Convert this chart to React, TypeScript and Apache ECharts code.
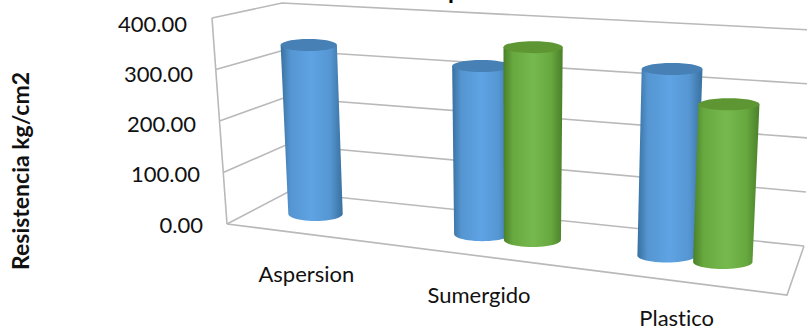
import React, { useEffect, useRef } from "react";
import * as echarts from "echarts";

const categories = ["Aspersion", "Sumergido", "Plastico"];
const blueValues = [338, 322, 342];
const greenValues: (number | null)[] = [null, 365, 286];
const yTicks = [0, 100, 200, 300, 400];
const axisTitle = "Resistencia kg/cm2";

const FONT = "Lato, Carlito, sans-serif";

// Corners of the 3D plot box, in page pixels.
const box = {
  flb: [227, 224], flt: [212, 18],
  blb: [288, 192], blt: [282, 3],
  brb: [804, 246], brt: [812, 30],
  frb: [787, 295], frt: [802, 62],
};
const mix = (a: number[], b: number[], t: number) => [a[0] + (b[0] - a[0]) * t, a[1] + (b[1] - a[1]) * t];

// u runs left to right, d front to back, v floor to ceiling; all in 0..1.
function project(u: number, d: number, v: number) {
  const bottom = mix(mix(box.flb, box.frb, u), mix(box.blb, box.brb, u), d);
  const top = mix(mix(box.flt, box.frt, u), mix(box.blt, box.brt, u), d);
  return mix(bottom, top, v);
}

// Columns crowd slightly towards the far side of the box.
const warp = (f: number) => f - 0.136 * f * (1 - f);
const groupNudge = [0.006, 0, 0];
const groupSpread = [1, 1, 1.12];
const groupDepth = [0.52, 0.5, 0.5];
const columnHalf = (u: number) => 0.05 * (1 + 0.12 * u);

const LINE = "#b9b9b9";

function frameItem(params: any, api: any) {
  const cs = params.coordSys;
  const v = (cs.y + cs.height - api.coord([0, api.value(0)])[1]) / cs.height;
  const children: any[] = [
    {
      type: "polyline",
      shape: { points: [project(0, 0, v), project(0, 1, v), project(1, 1, v)] },
      style: { stroke: LINE, fill: "none", lineWidth: 1.6 },
    },
  ];
  if (api.value(0) === 0) {
    children.push(
      { type: "line", shape: { x1: box.flb[0], y1: box.flb[1], x2: box.flt[0], y2: box.flt[1] }, style: { stroke: LINE, lineWidth: 1.6 } },
      { type: "polyline", shape: { points: [box.flb, box.frb, box.brb] }, style: { stroke: LINE, fill: "none", lineWidth: 1.6 } },
    );
  }
  return { type: "group", children };
}

function arcPoints(cx: number, cy: number, rx: number, ry: number) {
  const pts: number[][] = [];
  for (let i = 0; i <= 24; i++) {
    const a = (Math.PI * i) / 24;
    pts.push([cx + rx * Math.cos(a), cy + ry * Math.sin(a)]);
  }
  return pts;
}

function columnRenderer(shift: number, edge: string, mid: string, light: string, lid: string) {
  return (params: any, api: any) => {
    const value = api.value(1);
    if (value == null || Number.isNaN(value)) return null;
    const cs = params.coordSys;
    const idx = api.value(0);
    const [px, py] = api.coord([idx, value]);
    const u = warp((px - cs.x) / cs.width) + shift * groupSpread[idx] + groupNudge[idx];
    const v = (cs.y + cs.height - py) / cs.height;
    const d = groupDepth[idx];
    const half = columnHalf(u);
    const tl = project(u - half, d, v);
    const tr = project(u + half, d, v);
    const bl = project(u - half, d, 0);
    const br = project(u + half, d, 0);
    const tc = mix(tl, tr, 0.5);
    const bc = mix(bl, br, 0.5);
    const bottomArc = arcPoints(bc[0], bc[1], (br[0] - bl[0]) / 2, 7);
    return {
      type: "group",
      children: [
        {
          type: "polygon",
          shape: { points: [[tl[0], tc[1]], [tr[0], tc[1]], ...bottomArc] },
          style: {
            fill: {
              type: "linear", x: 0, y: 0, x2: 1, y2: 0,
              colorStops: [
                { offset: 0, color: edge },
                { offset: 0.16, color: mid },
                { offset: 0.5, color: light },
                { offset: 0.8, color: mid },
                { offset: 1, color: edge },
              ],
            },
          },
        },
        {
          type: "ellipse",
          shape: { cx: tc[0], cy: tc[1], rx: (tr[0] - tl[0]) / 2, ry: 6 },
          style: { fill: lid },
        },
      ],
    };
  };
}

const yPad: Record<string, number> = { "400.00": 19, "300.00": 13, "200.00": 10, "100.00": 6, "0.00": 3 };
const xShift = [
  { right: 26, top: 0 },
  { right: 54, top: 21 },
  { right: 32, top: 44 },
];

export default function App() {
  const ref = useRef<HTMLDivElement>(null);
  useEffect(() => {
    const chart = echarts.init(ref.current!, undefined, { renderer: "svg" });
    chart.setOption({
      animation: false,
      backgroundColor: "#ffffff",
      grid: { left: 226, top: 23, width: 560, height: 201 },
      graphic: [
        { type: "text", x: 448, y: -23, style: { text: "p", font: `bold 24px ${FONT}`, fill: "#000" } },
      ],
      xAxis: {
        type: "category",
        data: categories,
        axisLine: { show: false },
        axisTick: { show: false },
        splitLine: { show: false },
        axisLabel: {
          interval: 0,
          margin: 38,
          color: "#111",
          fontFamily: FONT,
          fontSize: 22,
          formatter: (val: string, i: number) => `{c${i}|${val}}`,
          rich: Object.fromEntries(
            xShift.map((s, i) => [`c${i}`, { fontFamily: FONT, fontSize: 22, color: "#111", padding: [s.top, s.right, 0, 0] }]),
          ),
        },
      },
      yAxis: {
        type: "value",
        min: 0,
        max: 400,
        interval: 100,
        name: axisTitle,
        nameLocation: "middle",
        nameRotate: 90,
        nameGap: 195,
        nameTextStyle: { fontFamily: FONT, fontWeight: "bold", fontSize: 23, color: "#111", padding: [0, 95, 0, 0] },
        axisLine: { show: false },
        axisTick: { show: false },
        splitLine: { show: false },
        axisLabel: {
          margin: 20,
          formatter: (val: number) => `{t${val}|${val.toFixed(2)}}`,
          rich: Object.fromEntries(
            yTicks.map((t) => [`t${t}`, { fontFamily: FONT, fontSize: 22, color: "#111", padding: [0, yPad[t.toFixed(2)], 0, 0] }]),
          ),
        },
      },
      series: [
        {
          type: "custom",
          coordinateSystem: "cartesian2d",
          clip: false,
          z: 1,
          encode: { y: 0 },
          data: yTicks.map((t) => [t]),
          renderItem: frameItem,
          silent: true,
        },
        {
          type: "custom",
          name: "Serie azul",
          z: 2,
          clip: false,
          encode: { x: 0, y: 1 },
          data: blueValues.map((v, i) => [i, v]),
          renderItem: columnRenderer(-0.048, "#39709f", "#5596d2", "#5fa3e4", "#4680b5"),
        },
        {
          type: "custom",
          name: "Serie verde",
          z: 3,
          clip: false,
          encode: { x: 0, y: 1 },
          data: greenValues.map((v, i) => [i, v]),
          renderItem: columnRenderer(0.045, "#4a8029", "#68a93f", "#76b94e", "#5e9633"),
        },
      ],
    });
    return () => chart.dispose();
  }, []);
  return (
    <div
      ref={ref}
      style={{ position: "absolute", left: 0, top: 0, width: 807, height: 330, fontVariantLigatures: "none" }}
    />
  );
}
